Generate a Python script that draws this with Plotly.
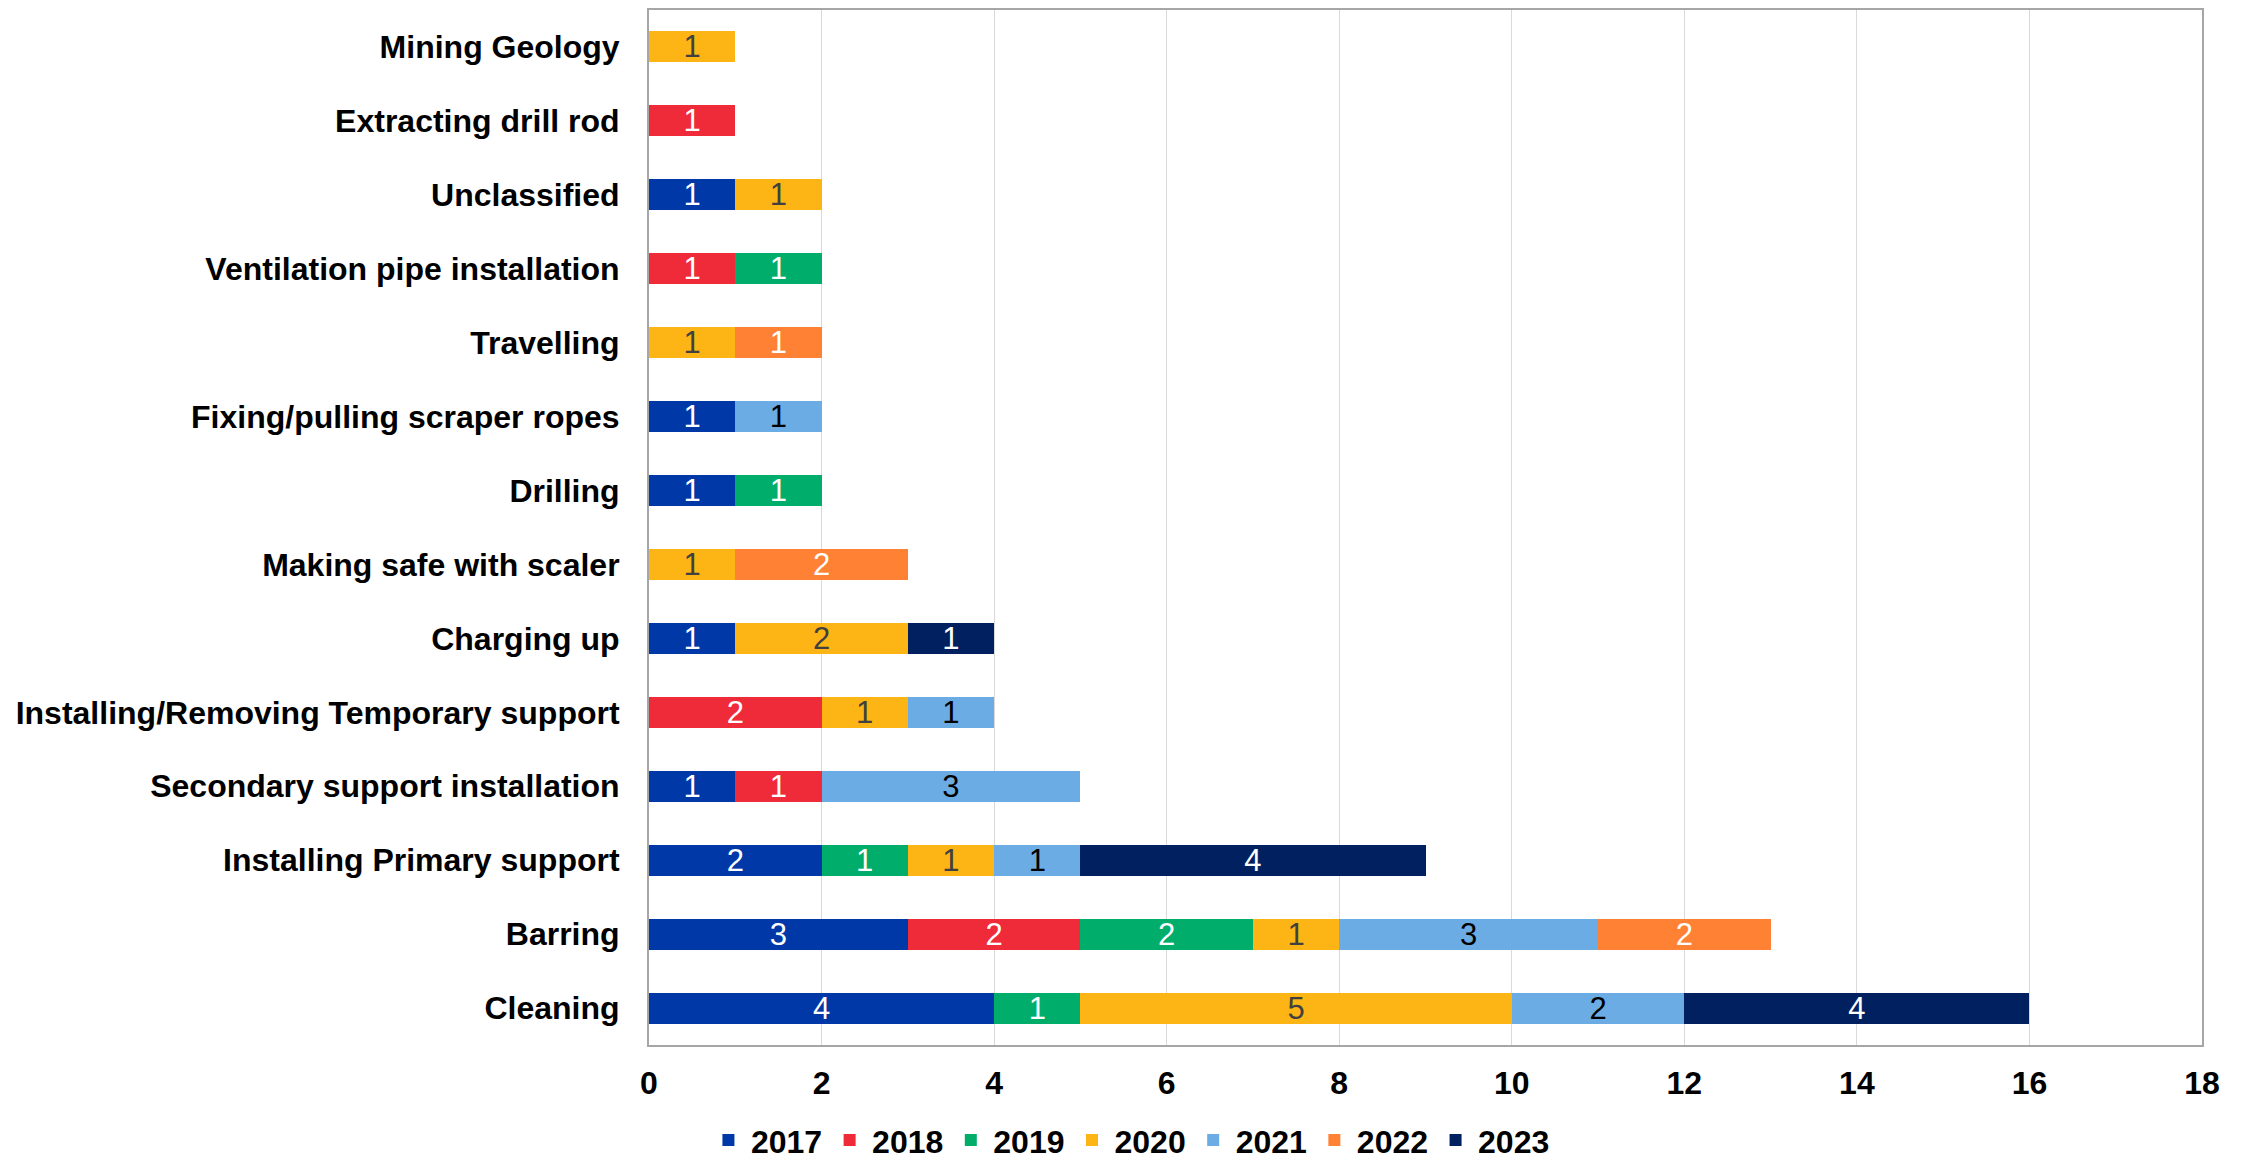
import plotly.graph_objects as go

categories = [
    "Mining Geology", "Extracting drill rod", "Unclassified", "Ventilation pipe installation",
    "Travelling", "Fixing/pulling scraper ropes", "Drilling", "Making safe with scaler",
    "Charging up", "Installing/Removing Temporary support", "Secondary support installation",
    "Installing Primary support", "Barring", "Cleaning",
]
years = ["2017", "2018", "2019", "2020", "2021", "2022", "2023"]
v2017 = [0, 0, 1, 0, 0, 1, 1, 0, 1, 0, 1, 2, 3, 4]
v2018 = [0, 1, 0, 1, 0, 0, 0, 0, 0, 2, 1, 0, 2, 0]
v2019 = [0, 0, 0, 1, 0, 0, 1, 0, 0, 0, 0, 1, 2, 1]
v2020 = [1, 0, 1, 0, 1, 0, 0, 1, 2, 1, 0, 1, 1, 5]
v2021 = [0, 0, 0, 0, 0, 1, 0, 0, 0, 1, 3, 1, 3, 2]
v2022 = [0, 0, 0, 0, 1, 0, 0, 2, 0, 0, 0, 0, 2, 0]
v2023 = [0, 0, 0, 0, 0, 0, 0, 0, 1, 0, 0, 4, 0, 4]
series = [v2017, v2018, v2019, v2020, v2021, v2022, v2023]
x_ticks = [0, 2, 4, 6, 8, 10, 12, 14, 16, 18]

colors = ["#0038A8", "#EF2B3A", "#00AD6B", "#FDB515", "#6CACE4", "#FF8133", "#002060"]
text_colors = ["white", "white", "white", "#404040", "black", "white", "white"]

fig = go.Figure()
for yr, vals, c, tc in zip(years, series, colors, text_colors):
    fig.add_trace(go.Bar(
        y=categories, x=[v if v else None for v in vals], name=yr, orientation="h",
        marker=dict(color=c, line=dict(width=0)),
        text=[str(v) if v else "" for v in vals],
        textposition="inside", insidetextanchor="middle", textangle=0,
        constraintext="none",
        textfont=dict(family="Liberation Sans, Arial", size=31, color=tc),
        hoverinfo="x+y+name",
    ))

fig.update_layout(
    barmode="stack",
    bargap=0.58,
    width=2241, height=1160,
    margin=dict(l=641, r=47, t=0, b=120),
    plot_bgcolor="white", paper_bgcolor="white",
    font=dict(family="Liberation Sans, Arial", size=32, color="black"),
    legend=dict(orientation="h", x=0.31, xanchor="center", y=-0.092, yanchor="middle",
                font=dict(size=32, family="Liberation Sans, Arial", color="black", weight="bold"),
                itemwidth=35, traceorder="normal"),
    xaxis=dict(range=[0, 18], tickvals=x_ticks, showgrid=True, gridcolor="#D9D9D9", gridwidth=1,
               zeroline=False, showline=True, linecolor="#A6A6A6", linewidth=2, mirror=True,
               ticks="", tickfont=dict(size=32, weight="bold"), ticklabelstandoff=9),
    yaxis=dict(categoryorder="array", categoryarray=categories, autorange="reversed",
               showline=True, linecolor="#A6A6A6", linewidth=2, mirror=True,
               ticks="", tickfont=dict(size=32, weight="bold"), ticklabelstandoff=21),
)

fig.write_html("out.html")
